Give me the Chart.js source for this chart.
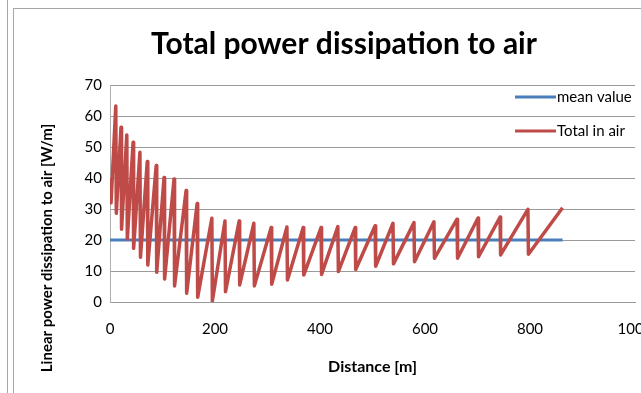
<!DOCTYPE html>
<html>
<head>
<meta charset="utf-8">
<title>Total power dissipation to air</title>
<script src="https://cdn.jsdelivr.net/npm/chart.js@4.4.0/dist/chart.umd.min.js"></script>
<style>
  html, body { margin: 0; padding: 0; background: #fff; overflow: hidden; }
  body { width: 641px; height: 393px; position: relative; }
  .edge { position: absolute; left: 7px; top: 0; width: 1px; height: 393px; background: #a6a6a6; }
  .frame { position: absolute; left: 13px; top: 8px; width: 700px; height: 400px;
           border-left: 1px solid #a6a6a6; border-top: 1px solid #a6a6a6; }
  .frame canvas { position: absolute; left: 0; top: 0; }
</style>
</head>
<body>
<div class="edge"></div>
<div class="frame">
  <canvas id="powerChart" width="660" height="384"></canvas>
</div>
<script>
// Chart data
const chartTitle = "Total power dissipation to air";
const xTitle = "Distance [m]";
const yTitle = "Linear power dissipation to air [W/m]";

const meanLabel = "mean value";
const meanDist = [0, 862];
const meanVal = [20, 20];

const airLabel = "Total in air";
const airDist = [
  0, 2, 11, 12, 21, 22, 32, 33, 44, 45, 57, 58, 71, 72, 88, 89,
  103, 104, 122, 123, 145, 146, 166, 167, 194, 195, 219, 220, 246, 247,
  274, 275, 307, 308, 337, 338, 368, 369, 402, 403, 434, 435, 467, 468,
  505, 506, 539, 540, 579, 580, 617, 618, 661, 662, 701, 702, 743, 744,
  796, 797, 862
];
const airVal = [
  40, 32, 63.2, 28.6, 56.4, 23.5, 53.9, 20.3, 51.5, 17.3, 48.3, 14.4, 45.3, 11.9, 44, 9.6,
  40.2, 7.4, 39.7, 5.2, 36, 2.8, 31.8, 1.5, 27, 0.3, 26.1, 3.3, 26.1, 5.5,
  25.4, 5.2, 24, 5.7, 24.2, 7.1, 24, 8.7, 24, 8.9, 24.3, 9.8, 24, 10.5,
  24.6, 11.5, 25.4, 12.3, 25.6, 13, 25.9, 14.1, 26.7, 14.1, 27.1, 14.6, 27.4, 15.2,
  29.9, 15.4, 30.4
];

const xTicks = [0, 200, 400, 600, 800, 1000];
const yTicks = [0, 10, 20, 30, 40, 50, 60, 70];

const toPoints = (xs, ys) => xs.map((x, i) => ({ x, y: ys[i] }));

const FONT = "Lato, 'Liberation Sans', sans-serif";
Chart.defaults.font.family = FONT;
Chart.defaults.color = "#000";

// Legend drawn over the plot, like the Excel original
const overlayLegend = {
  id: "overlayLegend",
  afterDraw(chart) {
    const ctx = chart.ctx;
    const rows = [88, 122];
    ctx.save();
    chart.data.datasets.forEach((ds, i) => {
      const y = rows[i];
      ctx.strokeStyle = ds.borderColor;
      ctx.lineWidth = 3;
      ctx.beginPath();
      ctx.moveTo(501, y);
      ctx.lineTo(542, y);
      ctx.stroke();
      ctx.fillStyle = "#000";
      ctx.font = "15px " + FONT;
      ctx.textBaseline = "middle";
      ctx.textAlign = "left";
      ctx.fillText(ds.label, 543, y);
    });
    ctx.restore();
  },
};

// Rotated y axis title, centred on the whole chart height
const yAxisTitle = {
  id: "yAxisTitle",
  afterDraw(chart) {
    const ctx = chart.ctx;
    ctx.save();
    ctx.translate(33, 239);
    ctx.rotate(-Math.PI / 2);
    ctx.fillStyle = "#000";
    ctx.font = "bold 15px " + FONT;
    ctx.textAlign = "center";
    ctx.textBaseline = "middle";
    ctx.fillText(yTitle, 0, 0);
    ctx.restore();
  },
};

const ctx = document.getElementById("powerChart").getContext("2d");

new Chart(ctx, {
  type: "scatter",
  data: {
    datasets: [
      {
        label: meanLabel,
        data: toPoints(meanDist, meanVal),
        showLine: true,
        borderColor: "#4a7ebb",
        borderWidth: 3,
        pointRadius: 0,
        order: 1,
      },
      {
        label: airLabel,
        data: toPoints(airDist, airVal),
        showLine: true,
        borderColor: "#be4b48",
        borderWidth: 3.5,
        pointRadius: 0,
        borderJoinStyle: "round",
        order: 0,
      },
    ],
  },
  options: {
    responsive: false,
    animation: false,
    layout: { padding: { left: 39, right: 39, top: 0, bottom: 0 } },
    plugins: {
      legend: { display: false },
      tooltip: { enabled: false },
      title: {
        display: true,
        text: chartTitle,
        font: { size: 30, weight: "bold" },
        color: "#000",
        padding: { top: 17, bottom: 23 },
      },
    },
    scales: {
      x: {
        type: "linear",
        min: xTicks[0],
        max: xTicks[xTicks.length - 1],
        afterBuildTicks: (s) => { s.ticks = xTicks.map((v) => ({ value: v })); },
        afterFit: (s) => { s.height = 91; s.paddingLeft = 0; s.paddingRight = 0; },
        grid: { display: false },
        border: { display: true, color: "#9a9a9a", width: 1 },
        ticks: { padding: 10, font: { size: 15 }, maxRotation: 0, callback: (v) => String(v) },
        title: {
          display: true,
          text: xTitle,
          font: { size: 16, weight: "bold" },
          padding: { top: 0, bottom: 17 },
        },
      },
      y: {
        type: "linear",
        min: yTicks[0],
        max: yTicks[yTicks.length - 1],
        afterBuildTicks: (s) => { s.ticks = yTicks.map((v) => ({ value: v })); },
        afterFit: (s) => { s.width = 57; s.paddingTop = 0; s.paddingBottom = 0; },
        grid: { color: "#9a9a9a", drawTicks: false },
        border: { display: true, color: "#b0b0b0", width: 1 },
        ticks: { padding: 8, font: { size: 15 }, callback: (v) => String(v) },
      },
    },
  },
  plugins: [overlayLegend, yAxisTitle],
});
</script>
</body>
</html>
